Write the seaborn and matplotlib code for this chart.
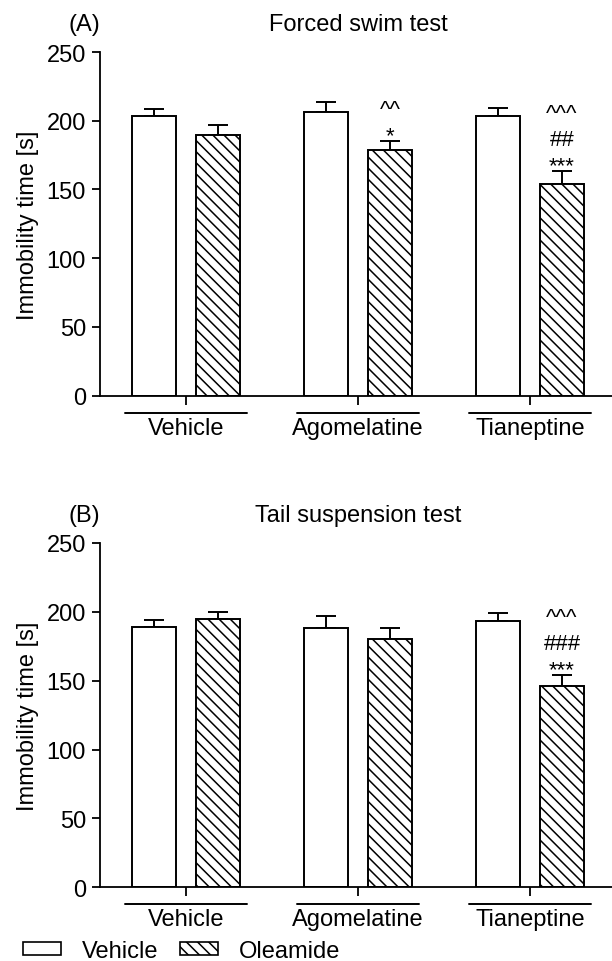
import numpy as np
import pandas as pd
import matplotlib
matplotlib.use("Agg")
import matplotlib.pyplot as plt
from matplotlib.patches import Patch
from matplotlib.lines import Line2D
import seaborn as sns

# ---------------- data ----------------
categories = ["Vehicle", "Agomelatine", "Tianeptine"]
treatments = ["Vehicle", "Oleamide"]

fst_vehicle = [203.5, 206.3, 203.2]
fst_oleamide = [189.6, 178.7, 154.2]
fst_vehicle_sem = [5.1, 7.0, 6.3]
fst_oleamide_sem = [7.5, 6.3, 9.2]

tst_vehicle = [188.8, 188.6, 193.2]
tst_oleamide = [194.6, 180.6, 145.9]
tst_vehicle_sem = [5.6, 8.7, 5.8]
tst_oleamide_sem = [5.1, 8.0, 8.3]

# significance marks on Oleamide bars: (category index -> rows bottom->top)
fst_marks = {1: ["*", "^^"], 2: ["***", "##", "^^^"]}
tst_marks = {2: ["***", "###", "^^^"]}

panel_titles = ["Forced swim test", "Tail suspension test"]
panel_letters = ["(A)", "(B)"]
ylabel = "Immobility time [s]"
yticks = [0, 50, 100, 150, 200, 250]

# ---------------- style ----------------
sns.set_theme(style="ticks")
plt.rcParams["font.family"] = ["Liberation Sans", "DejaVu Sans"]
plt.rcParams["hatch.linewidth"] = 1.1
for key in ["text.color", "axes.labelcolor", "xtick.color", "ytick.color", "axes.edgecolor"]:
    plt.rcParams[key] = "black"
FS = 17

W, H = 612, 962
fig = plt.figure(figsize=(W / 100, H / 100), dpi=100)


def make_df(veh, ole, veh_sem, ole_sem):
    rows = []
    for c, v, s in zip(categories, veh, veh_sem):
        rows.append({"drug": c, "treatment": treatments[0], "time": v, "sem": s})
    for c, v, s in zip(categories, ole, ole_sem):
        rows.append({"drug": c, "treatment": treatments[1], "time": v, "sem": s})
    return pd.DataFrame(rows)


# baseline offsets (data units above error-bar top) for each stacked row of marks
row_offsets = [0, 19, 38]

panels = [
    (make_df(fst_vehicle, fst_oleamide, fst_vehicle_sem, fst_oleamide_sem), fst_marks, 53, 396.7),
    (make_df(tst_vehicle, tst_oleamide, tst_vehicle_sem, tst_oleamide_sem), tst_marks, 544, 888.3),
]

for k, (df, marks, top_px, bot_px) in enumerate(panels):
    left_px, right_px = 100, 616
    ax = fig.add_axes([left_px / W, 1 - bot_px / H, (right_px - left_px) / W, (bot_px - top_px) / H])
    sns.barplot(data=df, x="drug", y="time", hue="treatment", order=categories,
                hue_order=treatments, palette=["white", "white"], edgecolor="black",
                linewidth=1.4, width=0.744, gap=0.31, errorbar=None, legend=False,
                saturation=1, ax=ax)

    # hatch + error bars + marks
    for p in ax.patches:
        xc = p.get_x() + p.get_width() / 2
        ci = int(round(xc))
        hue = 0 if xc < ci else 1
        if hue == 1:
            p.set_hatch("\\\\\\")
        p.set_edgecolor("black")
        p.set_zorder(2)
        sub = df[(df["drug"] == categories[ci]) & (df["treatment"] == treatments[hue])]
        m = sub["time"].iloc[0]
        s = sub["sem"].iloc[0]
        ax.errorbar([xc], [m], yerr=[[0], [s]], fmt="none", ecolor="black",
                    elinewidth=1.4, capsize=7.5, capthick=1.4, zorder=1)
        if hue == 1 and ci in marks:
            for r, lab in enumerate(marks[ci]):
                ax.text(xc, m + s + row_offsets[r], lab, ha="center", va="baseline",
                        fontsize=16, color="black")

    ax.set_xlim(-0.5, 2.5)
    ax.set_ylim(0, 250)
    ax.set_yticks(yticks)
    ax.set_xticks(range(len(categories)))
    ax.set_xticklabels(categories, fontsize=FS)
    ax.tick_params(axis="y", labelsize=FS, length=6, width=1.3, pad=4, colors="black")
    ax.tick_params(axis="x", labelsize=FS, length=6.5, width=1.3, pad=8.5, colors="black")
    for sp in ["top", "right"]:
        ax.spines[sp].set_visible(False)
    for sp in ["left", "bottom"]:
        ax.spines[sp].set_linewidth(1.3)
        ax.spines[sp].set_color("black")
    ax.set_xlabel("")
    ax.set_ylabel(ylabel, fontsize=FS, color="black")
    ax.yaxis.set_label_coords(-0.118, 0.5)
    ax.set_title(panel_titles[k], fontsize=FS, pad=15.5, color="black")
    fig.text(68 / W, 1 - (top_px - 22) / H, panel_letters[k], fontsize=FS,
             ha="left", va="baseline", color="black")

    # group underline below the axis
    trans = ax.get_xaxis_transform()
    for i in range(len(categories)):
        ax.add_line(Line2D([i - 0.355, i + 0.355], [-0.049, -0.049], transform=trans,
                           color="black", lw=1.4, clip_on=False))

# legend
handles = [Patch(facecolor="white", edgecolor="black", linewidth=1.2, label=treatments[0]),
           Patch(facecolor="white", edgecolor="black", linewidth=1.2, hatch="\\\\\\",
                 label=treatments[1])]
fig.legend(handles=handles, loc="center left", bbox_to_anchor=(23 / W, 1 - 952 / H),
           ncol=2, frameon=False, fontsize=FS, handlelength=1.6, handleheight=0.5,
           handletextpad=0.9, columnspacing=0.9, borderpad=0, borderaxespad=0,
           labelcolor="black")

fig.savefig("out.png", dpi=100, facecolor="white")
